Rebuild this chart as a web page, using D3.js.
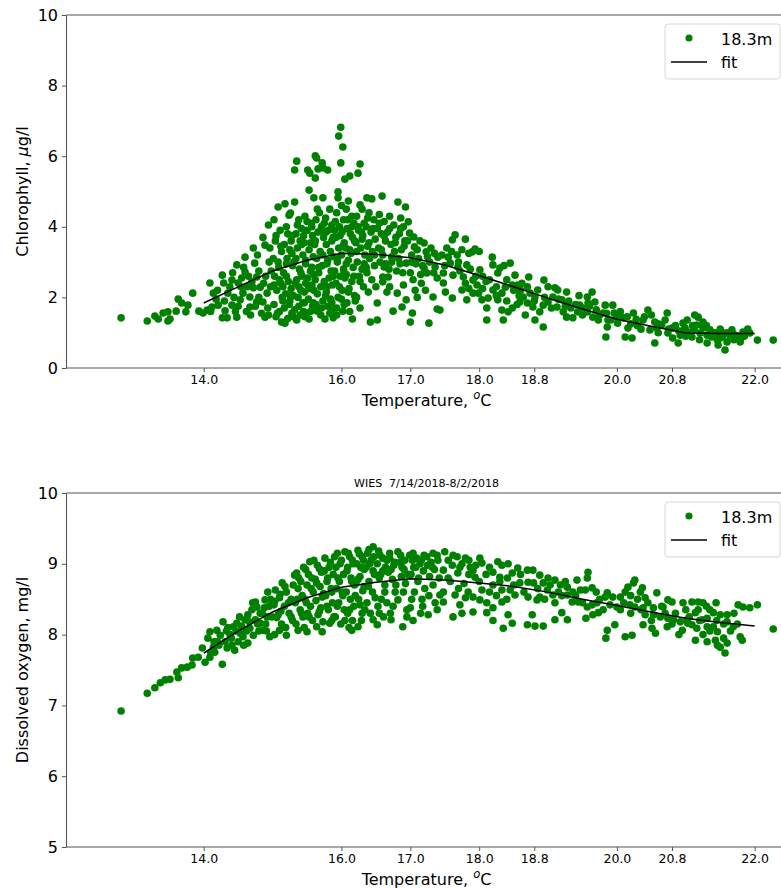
<!DOCTYPE html>
<html><head><meta charset="utf-8">
<script src="https://cdn.jsdelivr.net/npm/d3@7"></script>
<style>body{margin:0;background:#fff} svg text{font-family:"DejaVu Sans",sans-serif;fill:#000;white-space:pre}</style>
</head><body><svg id="c" width="781" height="888"></svg>
<script>
const xTicks=[14.0,16.0,17.0,18.0,18.8,20.0,20.8,22.0];
const chlTicks=[0,2,4,6,8,10];
const doTicks=[5,6,7,8,9,10];
const legendLabels=["18.3m","fit"];
const titleText="WIES  7/14/2018-8/2/2018";
const fitTemp=[14,14.5,15,15.5,16,16.5,17,17.5,18,18.5,19,19.5,20,20.5,21,21.5,22];
const chlFit=[1.84,2.3,2.75,3.05,3.25,3.22,3.12,2.92,2.62,2.3,1.98,1.67,1.38,1.18,0.99,0.98,0.98];
const doFit=[7.74,8.05,8.32,8.52,8.67,8.74,8.79,8.77,8.73,8.68,8.6,8.5,8.41,8.32,8.23,8.17,8.12];

const chlPoints=[
[12.8,1.42],[13.18,1.33],[13.29,1.47],[13.34,1.39],[13.41,1.56],[13.48,1.59],[13.51,1.39],[13.48,1.33],[13.6,1.61],[13.63,1.95],[13.68,1.84],[13.74,1.59],[13.77,1.78],[13.84,2.12],[13.93,1.61],[13.99,1.56],
[14.09,2.41],[14.14,2.12],[14.27,2.63],[14.29,2.41],[14.35,2.12],[14.41,2.49],[14.48,2.92],[14.5,2.41],[14.53,1.93],[14.6,2.72],[14.6,3.14],[14.72,3.4],[14.74,2.97],[14.77,2.58],[14.82,2.29],[14.89,3.48],[14.94,4.05],[14.92,2.12],[14.89,1.44],[14.67,1.73],[14.27,1.42],[14.34,1.42],[14.48,1.44],[14.21,1.78],[14.41,1.78],[14.12,1.73],[14.05,1.64],[14.67,2.01],[14.77,1.87],[14.86,1.87],[14.57,2.12],[14.72,2.27],
[14.18,1.95],[14.31,1.62],[14.44,2.0],[14.55,2.55],[14.62,1.6],[14.7,2.45],[14.8,2.75],[14.84,1.55],[14.9,2.6],[14.95,3.0],[14.97,2.3],[14.93,1.7],[14.63,2.3],[14.38,2.3],[14.58,2.85],[14.78,3.2],[14.86,3.7],[14.46,1.6],
[14.1,1.6],[14.2,2.2],[14.3,1.9],[14.42,2.7],[14.5,1.75],[14.54,2.3],[14.65,2.6],[14.68,1.5],[14.75,1.75],[14.8,2.0],[14.87,2.4],[14.94,1.5],[14.98,2.75],[14.96,3.4],
[15.08,4.56],[15.02,4.2],[15.11,3.9],[15.04,3.6],[15.13,3.3],[15.01,3.1],[15.09,2.85],[15.03,2.6],[15.12,2.4],[15.06,2.2],[15.14,2.0],[15.02,1.8],[15.1,1.6],[15.05,1.45],[15.13,1.3],
[15.18,4.65],[15.26,4.39],[15.24,4.33],[15.2,4.0],[15.28,3.75],[15.17,3.5],[15.25,3.35],[15.21,3.1],[15.29,2.9],[15.16,2.7],[15.23,2.45],[15.27,2.25],[15.19,2.1],[15.25,1.9],[15.17,1.7],[15.28,1.55],[15.18,1.27],[15.22,1.4],
[15.35,5.86],[15.32,5.61],[15.32,4.7],[15.38,4.2],[15.42,3.95],[15.34,3.8],[15.4,3.6],[15.36,3.4],[15.44,3.2],[15.31,3.0],[15.39,2.8],[15.43,2.6],[15.33,2.4],[15.41,2.2],[15.37,2.0],[15.44,1.85],[15.32,1.65],[15.4,1.5],[15.35,1.36],
[15.51,5.61],[15.54,5.52],[15.53,5.04],[15.6,4.82],[15.47,4.3],[15.56,4.1],[15.5,3.9],[15.58,3.75],[15.46,3.55],[15.53,3.35],[15.59,3.15],[15.48,2.95],[15.55,2.75],[15.51,2.55],[15.57,2.35],[15.46,2.15],[15.52,1.95],[15.58,1.75],[15.49,1.55],[15.53,1.39],
[15.62,6.01],[15.64,5.95],[15.72,5.81],[15.73,5.67],[15.66,5.64],[15.62,5.38],[15.73,4.82],[15.68,4.4],[15.63,4.2],[15.71,4.0],[15.66,3.85],[15.74,3.7],[15.61,3.5],[15.69,3.3],[15.64,3.1],[15.72,2.9],[15.67,2.7],[15.62,2.5],[15.7,2.3],[15.65,2.1],[15.73,1.9],[15.65,1.61],[15.76,1.39],
[15.8,5.61],[15.83,4.5],[15.77,4.25],[15.86,4.05],[15.81,3.9],[15.88,3.7],[15.78,3.5],[15.84,3.3],[15.89,3.15],[15.79,2.95],[15.85,2.75],[15.82,2.55],[15.87,2.35],[15.78,2.15],[15.84,1.95],[15.8,1.75],[15.88,1.42],[15.83,1.55],
[15.99,6.82],[15.96,6.57],[16.02,6.26],[15.99,5.81],[16.05,5.35],[15.95,4.99],[15.95,4.82],[16.0,4.6],[15.93,4.4],[16.03,4.2],[15.97,4.0],[16.01,3.85],[15.92,3.7],[16.04,3.55],[15.96,3.4],[16.0,3.2],[15.94,3.0],[16.03,2.8],[15.98,2.6],[15.92,2.4],[16.01,2.2],[15.95,2.0],[16.04,1.8],[16.02,1.61],
[16.12,5.44],[16.1,4.73],[16.07,4.5],[16.15,4.3],[16.18,4.1],[16.08,3.95],[16.13,3.8],[16.19,3.6],[16.06,3.4],[16.14,3.25],[16.1,3.05],[16.17,2.85],[16.07,2.65],[16.15,2.45],[16.11,2.25],[16.19,2.05],[16.08,1.85],[16.16,1.39],
[16.27,5.78],[16.24,5.52],[16.27,4.62],[16.3,4.5],[16.22,4.3],[16.33,4.1],[16.25,3.9],[16.31,3.75],[16.21,3.55],[16.28,3.4],[16.34,3.2],[16.23,3.0],[16.3,2.8],[16.26,2.6],[16.27,1.7],[16.32,2.3],[16.22,2.0],
[16.37,4.82],[16.44,4.79],[16.4,4.4],[16.47,4.2],[16.36,4.0],[16.43,3.85],[16.49,3.65],[16.38,3.45],[16.45,3.3],[16.41,3.1],[16.48,2.9],[16.37,2.7],[16.44,2.5],[16.39,2.15],[16.42,1.3],[16.52,1.36],[16.52,1.84],
[16.59,4.87],[16.55,4.35],[16.62,4.15],[16.52,3.95],[16.58,3.8],[16.64,3.6],[16.54,3.4],[16.6,3.2],[16.62,2.86],[16.6,2.58],[16.6,2.44],[16.66,2.15],[16.56,3.0],
[16.7,4.3],[16.76,4.05],[16.67,3.85],[16.79,3.7],[16.72,3.5],[16.77,3.3],[16.73,3.0],[16.69,2.8],[16.68,2.58],[16.81,2.12],[16.75,1.61],
[16.82,4.7],[16.93,4.56],[16.86,4.25],[16.9,4.0],[16.84,3.8],[16.92,3.6],[16.87,3.35],[16.83,3.1],[16.94,2.97],[16.89,2.7],[16.94,1.93],[16.88,1.73],
[16.97,4.14],[16.99,3.82],[17.05,3.71],[17.06,3.43],[17.02,3.2],[17.08,2.95],[17.0,2.7],[17.04,2.5],[17.03,1.56],[17.0,1.3],[17.07,2.2],
[17.2,3.54],[17.23,3.29],[17.14,3.6],[17.12,3.1],[17.2,2.83],[17.24,2.69],[17.16,2.4],[17.27,1.27],[17.18,2.9],
[17.4,3.14],[17.36,2.86],[17.39,2.55],[17.33,2.01],[17.39,1.67],[17.3,3.4],[17.28,3.0],[17.34,2.7],
[15.07,1.55],[15.15,2.3],[15.24,1.8],[15.3,2.05],[15.38,1.75],[15.46,1.85],[15.55,1.6],[15.63,1.8],[15.7,1.5],[15.77,2.05],[15.86,1.65],[15.93,1.5],[16.0,1.95],[16.12,1.6],[16.2,1.9],[15.1,2.5],[15.2,2.95],[15.35,2.5],[15.48,2.4],[15.6,2.65],[15.75,2.45],[15.9,2.75],[16.05,2.55],[15.27,3.6],[15.45,3.75],[15.57,4.0],[15.75,4.1],[15.9,3.9],[16.15,4.0],[16.3,3.65],
[15.05,3.75],[15.12,3.45],[15.08,3.0],[15.02,2.35],[15.15,1.9],[15.22,3.8],[15.28,3.25],[15.2,2.6],[15.26,2.05],[15.3,1.45],[15.36,4.05],[15.42,3.5],[15.34,3.1],[15.41,2.7],[15.38,2.3],[15.45,1.6],[15.5,4.15],[15.55,3.55],[15.48,3.05],[15.57,2.85],[15.52,2.25],[15.59,1.85],[15.47,1.45],[15.65,4.5],[15.7,3.9],[15.62,3.6],[15.73,3.2],[15.67,2.85],[15.6,2.2],[15.71,1.7],[15.78,3.85],[15.86,3.6],[15.8,3.05],[15.88,2.6],[15.79,2.3],[15.86,1.85],[15.91,4.15],[15.98,3.75],[16.02,3.45],[15.94,3.1],[16.04,2.7],[15.97,2.3],[15.93,1.7],[16.09,4.2],[16.16,3.7],[16.12,3.35],[16.07,2.95],[16.18,2.6],[16.1,2.15],[16.24,4.0],[16.29,3.85],[16.22,3.3],[16.33,2.95],[16.27,2.45],[16.38,4.25],[16.46,3.95],[16.4,3.55],[16.48,3.2],[16.36,2.85],[16.55,4.1],[16.62,3.75],[16.58,3.35],[16.64,2.95],[16.7,3.95],[16.78,3.55],[16.73,3.15],[16.8,2.75],[16.86,3.95],[16.91,3.45],[16.85,2.95],[16.96,3.6],[17.02,3.0],[17.1,3.35],[17.15,2.65],[17.25,3.15],[17.35,3.25],[16.5,2.3],[16.7,2.3],[16.9,2.35],[17.1,2.0],[17.22,2.2],
[17.65,3.77],[17.61,3.63],[17.8,3.65],[17.53,3.4],[17.46,3.2],[17.55,3.14],[17.68,3.2],[17.9,3.29],[17.94,3.37],[17.85,3.25],[17.58,2.97],[17.69,2.86],[17.82,2.92],[17.87,2.8],[17.48,2.69],[17.62,2.63],[17.77,2.58],[17.91,2.49],[18.01,2.78],[18.19,3.14],[18.2,2.92],[18.3,2.83],[18.27,2.69],[18.45,2.97],[18.36,2.9],[18.52,2.63],[18.72,2.58],[18.94,2.49],[17.48,2.41],[17.51,2.15],[17.75,2.21],[17.85,2.25],[17.97,2.35],[17.99,2.12],[18.04,1.93],[18.13,1.98],[18.2,2.21],[18.25,2.3],[18.33,2.12],[18.38,2.29],[18.48,2.35],[18.56,2.35],[18.62,2.4],[18.64,2.01],[18.74,2.12],[18.81,2.01],[18.85,2.21],[18.7,1.84],[18.78,1.73],[18.88,1.59],[18.93,1.78],[19.0,1.87],[19.1,2.27],[19.14,2.21],[19.27,2.15],[19.07,2.01],[19.2,1.93],[19.13,1.73],[19.22,1.59],[19.33,1.7],[19.27,1.44],[19.36,1.42],[19.43,1.59],[19.46,1.78],[19.57,2.01],[19.64,2.15],[19.68,1.87],[19.58,1.84],[19.57,1.59],[19.65,1.44],[19.73,1.36],[19.8,1.56],[19.83,1.78],[19.87,1.36],[19.86,1.16],[19.84,0.88],[18.11,1.36],[18.35,1.36],[18.93,1.16],[18.67,1.5],[18.81,1.36],[18.42,1.59],[18.48,1.7],[18.33,1.64],[18.27,1.93],[18.11,1.7],[17.91,2.12],[17.82,1.93],[17.61,1.98],[17.43,1.64],[18.58,2.05],[18.59,1.87],
[17.7,3.0],[17.75,3.35],[18.05,2.6],[18.1,2.45],[18.4,2.5],[18.6,2.2],[19.0,2.3],[19.3,1.9],[19.45,2.05],[19.5,1.7],[19.7,1.65],[18.0,3.3],
[17.5,2.9],[17.6,3.3],[17.72,2.75],[17.8,2.4],[17.95,2.6],[18.05,2.25],[18.15,2.5],[18.25,2.05],[18.4,1.9],[18.5,2.2],[18.55,1.8],[18.7,2.3],[18.8,1.9],[18.95,2.0],[19.05,1.7],[19.15,1.95],[19.25,1.75],[19.4,1.8],[19.5,1.5],[19.6,1.75],[19.75,1.5],[19.85,1.55],
[19.94,1.78],[19.96,1.56],[19.91,1.36],[20.01,1.27],[20.09,1.42],[20.15,1.45],[20.12,0.88],[20.22,0.85],[20.16,1.13],[20.24,1.56],[20.28,1.38],[20.38,1.36],[20.4,1.45],[20.45,1.64],[20.48,1.08],[20.55,1.3],[20.58,1.13],[20.55,0.71],[20.65,1.22],[20.7,1.36],[20.73,1.56],[20.74,0.99],[20.8,1.13],[20.81,0.85],[20.89,0.71],[20.92,0.93],[20.96,1.27],[20.99,1.13],[21.03,1.02],[21.09,0.88],[21.13,1.5],[21.18,1.44],[21.16,1.22],[21.12,1.1],[21.21,0.99],[21.25,1.13],[21.31,0.71],[21.31,0.93],[21.35,1.08],[21.38,0.88],[21.43,0.99],[21.46,0.79],[21.47,0.65],[21.53,0.88],[21.57,0.51],[21.6,0.74],[21.54,0.99],[21.64,0.93],[21.67,1.08],[21.74,0.91],[21.79,0.74],[21.83,1.02],[21.93,0.99],[21.8,0.85],[22.04,0.79],[22.27,0.79],[21.02,1.36],[20.9,1.05],[21.4,1.0],[21.7,0.95],
[20.05,1.6],[20.3,1.2],[20.6,1.0],[20.85,1.2],[21.2,0.8],[21.5,1.1],[21.45,0.95],[21.25,1.3],[20.5,1.5],[21.0,0.9],
[20.0,1.45],[20.2,1.25],[20.35,1.1],[20.6,1.25],[20.75,1.1],[20.95,1.05],[21.1,1.2],[21.3,1.2],[21.5,0.85],[21.6,1.0],[21.7,0.8],[21.85,0.9],[21.9,1.1]
];

const doPoints=[
[12.8,6.92],[13.18,7.17],[13.29,7.25],[13.37,7.32],[13.44,7.36],[13.51,7.37],[13.63,7.39],[13.61,7.47],[13.68,7.53],[13.76,7.54],[13.83,7.57],[13.84,7.67],[13.92,7.68],[13.98,7.81],[14.02,7.61],[14.09,7.68],[14.16,7.75],[14.27,7.58],[14.14,7.82],[14.06,7.95],[14.09,8.04],[14.19,8.06],[14.28,8.18],[14.24,7.99],[14.31,7.9],[14.34,7.81],[14.41,7.85],[14.45,7.78],[14.43,8.11],[14.48,8.16],[14.53,8.02],[14.57,7.97],[14.6,8.21],[14.64,8.28],[14.64,7.88],[14.72,7.99],[14.67,8.09],[14.75,8.21],[14.77,8.39],[14.75,8.46],[14.82,8.16],[14.86,8.06],[14.92,8.25],[14.89,8.49],[14.93,8.6],[14.96,7.97],
[14.2,7.9],[14.38,8.0],[14.5,7.9],[14.55,8.12],[14.7,8.35],[14.8,8.05],[14.85,8.3],[14.95,8.4],[14.9,8.15],[14.62,8.05],
[14.1,7.75],[14.22,7.85],[14.33,8.05],[14.4,7.95],[14.47,8.05],[14.52,8.25],[14.58,7.85],[14.66,8.18],[14.71,8.45],[14.78,8.15],[14.82,8.3],[14.88,8.38],[14.91,8.05],[14.97,8.5],[14.99,8.25],[14.35,8.1],[14.15,7.9],
[15.04,8.63],[15.1,8.52],[15.02,8.42],[15.12,8.33],[15.06,8.24],[15.13,8.15],[15.1,8.06],[15.03,8.0],
[15.14,8.73],[15.32,8.84],[15.2,8.6],[15.27,8.5],[15.17,8.4],[15.24,8.3],[15.29,8.2],[15.19,8.1],[15.2,7.99],
[15.35,8.87],[15.41,8.75],[15.37,8.65],[15.43,8.55],[15.33,8.45],[15.4,8.35],[15.44,8.25],[15.34,8.15],[15.37,8.06],
[15.54,9.03],[15.48,8.92],[15.57,8.8],[15.5,8.7],[15.59,8.6],[15.47,8.5],[15.55,8.4],[15.51,8.3],[15.58,8.2],[15.46,8.1],[15.5,8.04],
[15.65,8.98],[15.71,8.88],[15.62,8.78],[15.69,8.68],[15.74,8.58],[15.63,8.48],[15.7,8.38],[15.66,8.28],[15.73,8.18],[15.64,8.11],
[15.76,9.08],[15.82,8.95],[15.88,8.85],[15.79,8.75],[15.85,8.65],[15.77,8.55],[15.87,8.45],[15.81,8.35],[15.89,8.25],[15.72,8.04],[15.83,8.16],
[15.94,9.15],[16.0,9.05],[15.92,8.95],[16.03,8.85],[15.97,8.75],[15.93,8.65],[16.02,8.55],[15.96,8.45],[16.04,8.35],[15.91,8.25],[15.99,8.15],
[16.05,9.17],[16.12,9.1],[16.17,9.0],[16.08,8.9],[16.14,8.8],[16.19,8.7],[16.07,8.6],[16.13,8.5],[16.18,8.4],[16.09,8.3],[16.16,8.2],[16.11,8.1],
[16.24,9.19],[16.3,9.1],[16.22,9.0],[16.33,8.92],[16.27,8.82],[16.21,8.72],[16.31,8.62],[16.25,8.5],[16.34,8.35],[16.15,8.06],[16.24,8.11],[16.29,8.2],
[16.46,9.24],[16.38,9.15],[16.43,9.05],[16.36,8.95],[16.48,8.85],[16.4,8.75],[16.45,8.6],[16.37,8.45],[16.42,8.3],[16.46,8.21],[16.52,8.14],
[16.56,9.12],[16.66,9.05],[16.52,9.0],[16.6,8.9],[16.55,8.8],[16.63,8.7],[16.58,8.5],[16.53,8.4],[16.61,8.25],
[16.82,9.17],[16.7,9.08],[16.76,8.98],[16.68,8.88],[16.74,8.78],[16.66,8.45],[16.78,8.6],[16.71,8.3],[16.72,8.21],
[16.99,9.12],[16.85,9.02],[16.91,8.92],[16.87,8.82],[16.93,8.72],[16.82,8.49],[16.89,8.11],[16.95,8.35],
[17.03,9.05],[17.08,8.95],[17.01,8.85],[17.0,8.38],[17.06,8.6],[17.04,8.2],
[17.24,9.1],[17.14,9.0],[17.19,8.9],[17.12,8.8],[17.17,8.5],[17.26,8.28],[17.21,8.65],
[17.39,9.12],[17.3,9.02],[17.35,8.92],[17.28,8.82],[17.39,8.35],[17.33,8.7],[17.27,8.55],
[15.03,8.47],[15.08,8.28],[15.11,8.57],[15.18,8.68],[15.23,8.45],[15.27,8.25],[15.3,8.7],[15.38,8.8],[15.36,8.5],[15.42,8.3],[15.45,8.95],[15.52,8.85],[15.56,8.65],[15.49,8.45],[15.53,8.25],[15.6,9.05],[15.68,8.93],[15.64,8.73],[15.72,8.53],[15.68,8.33],[15.75,8.9],[15.84,9.02],[15.8,8.8],[15.86,8.6],[15.79,8.4],[15.86,8.2],[15.9,9.1],[15.98,9.0],[15.95,8.8],[16.01,8.6],[15.94,8.4],[16.05,8.2],[16.1,9.15],[16.16,9.05],[16.09,8.95],[16.15,8.75],[16.2,8.55],[16.12,8.35],[16.26,9.14],[16.32,9.05],[16.28,8.95],[16.24,8.78],[16.33,8.68],[16.27,8.42],[16.4,9.2],[16.47,9.1],[16.41,9.0],[16.46,8.9],[16.39,8.68],[16.49,8.52],[16.54,9.18],[16.6,9.08],[16.64,8.95],[16.57,8.85],[16.63,8.6],[16.7,9.15],[16.77,9.02],[16.72,8.92],[16.79,8.7],[16.75,8.4],[16.86,9.12],[16.92,9.05],[16.88,8.95],[16.96,8.85],[16.9,8.6],[17.04,9.15],[17.09,9.08],[17.05,8.95],[17.11,8.75],[17.2,9.12],[17.16,9.05],[17.25,8.98],[17.18,8.4],[17.33,9.15],[17.4,9.05],[17.32,8.95],[17.42,8.8],[17.36,8.45],[17.02,8.5],[17.15,8.3],[16.95,8.25],[16.55,8.3],[16.3,8.3],
[17.5,9.17],[17.62,9.12],[17.8,9.08],[18.01,9.08],[17.61,8.98],[17.72,8.95],[17.87,8.95],[17.91,8.91],[18.04,9.01],[17.48,8.91],[17.69,8.87],[17.94,8.81],[18.27,9.03],[18.33,8.98],[18.42,9.0],[18.2,8.88],[18.3,8.81],[18.41,8.8],[18.48,8.87],[18.56,8.94],[18.7,8.91],[18.78,8.91],[18.88,8.84],[18.59,8.73],[18.71,8.74],[18.79,8.73],[18.93,8.73],[19.03,8.7],[19.1,8.77],[19.18,8.7],[19.28,8.67],[19.42,8.77],[19.58,8.88],[19.57,8.8],[19.54,8.63],[19.64,8.66],[19.47,8.63],[19.36,8.6],[19.28,8.56],[19.15,8.6],[19.07,8.56],[18.99,8.63],[18.88,8.53],[18.84,8.49],[18.71,8.53],[18.52,8.56],[18.45,8.63],[18.33,8.63],[18.2,8.7],[18.04,8.63],[17.91,8.53],[18.01,8.49],[17.84,8.6],[17.8,8.52],[17.72,8.42],[17.65,8.56],[17.48,8.6],[17.43,8.56],[17.48,8.46],[18.11,8.45],[18.11,8.31],[18.2,8.38],[18.33,8.46],[18.42,8.28],[18.48,8.16],[18.35,8.09],[17.91,8.32],[17.62,8.25],[18.7,8.14],[18.77,8.28],[18.81,8.12],[18.93,8.12],[19.1,8.21],[19.2,8.31],[19.28,8.21],[19.35,8.46],[19.44,8.46],[19.57,8.39],[19.64,8.42],[19.71,8.45],[19.73,8.31],[19.65,8.28],[19.55,8.23],[19.83,8.53],[19.86,8.59],[19.86,8.06],[19.84,7.95],
[17.55,9.05],[17.68,9.1],[17.75,9.0],[17.85,9.05],[17.95,8.98],[17.58,8.75],[17.78,8.72],[18.1,8.85],[18.15,8.95],[18.6,8.85],[19.0,8.8],[19.25,8.75],[18.25,8.55],[19.7,8.6],
[17.55,8.8],[17.7,8.65],[17.85,8.85],[18.0,8.75],[18.15,8.6],[18.3,8.75],[18.4,8.5],[18.5,8.7],[18.65,8.6],[18.85,8.65],[18.95,8.5],[19.1,8.45],[19.2,8.55],[19.4,8.55],[19.5,8.45],[19.75,8.5],[19.8,8.35],[18.2,8.2],[17.75,8.3],
[20.26,8.77],[20.24,8.73],[20.16,8.67],[20.12,8.6],[20.05,8.53],[19.94,8.53],[20.37,8.66],[20.34,8.6],[20.41,8.52],[20.58,8.59],[20.74,8.49],[20.8,8.46],[20.96,8.45],[21.09,8.46],[21.18,8.46],[21.25,8.45],[21.44,8.45],[21.76,8.42],[21.83,8.39],[21.93,8.38],[22.04,8.42],[22.27,8.08],[20.19,8.42],[20.26,8.39],[20.38,8.38],[20.53,8.38],[20.67,8.39],[20.41,8.28],[20.53,8.28],[20.63,8.25],[20.74,8.23],[20.82,8.21],[20.92,8.18],[21.02,8.21],[21.14,8.31],[21.18,8.35],[21.35,8.35],[21.4,8.31],[21.5,8.28],[21.6,8.28],[21.24,8.21],[21.31,8.23],[21.03,8.16],[21.09,8.14],[21.16,8.09],[21.31,8.11],[21.4,8.11],[21.46,8.04],[21.6,8.18],[21.69,8.11],[20.95,8.06],[20.73,8.11],[20.38,8.14],[20.51,8.09],[20.56,8.02],[19.97,8.14],[20.12,7.97],[20.22,7.99],[21.14,7.92],[21.31,7.9],[21.43,7.92],[21.46,7.85],[21.5,7.82],[21.6,7.88],[21.57,7.74],[21.79,7.97],[21.82,7.92],[19.9,8.42],[20.0,8.39],[20.05,8.35],
[20.3,8.5],[20.45,8.45],[20.65,8.4],[20.85,8.3],[21.0,8.35],[21.2,8.2],[21.35,8.05],[21.55,8.15],[21.7,8.3],[20.2,8.3],[20.9,8.0],[21.25,8.0],
[20.1,8.45],[20.2,8.55],[20.35,8.35],[20.5,8.2],[20.7,8.3],[20.8,8.15],[21.05,8.25],[21.3,8.4],[21.45,8.2],[21.55,7.95],[21.65,8.05],[21.75,8.15]
];

const svg=d3.select("#c");
const x=d3.scaleLinear().domain([12,22.47]).range([66,787]);
const green="#008000";
const xCenter=(x.range()[0]+x.range()[1])/2;

function panel(top,bottom,yDomain,yTicks,points,fit,yLabelParts,title){
  const y=d3.scaleLinear().domain(yDomain).range([bottom,top]);
  const g=svg.append("g");
  if(title){
    g.append("text").attr("x",xCenter).attr("y",top-6)
      .attr("text-anchor","middle").attr("font-size",11).text(title);
  }
  g.append("g").selectAll("circle").data(points).join("circle")
    .attr("cx",d=>x(d[0])).attr("cy",d=>y(d[1])).attr("r",3.8).attr("fill",green);
  g.append("path").datum(fitTemp.map((t,i)=>[t,fit[i]]))
    .attr("d",d3.line().x(d=>x(d[0])).y(d=>y(d[1])))
    .attr("fill","none").attr("stroke","#000").attr("stroke-width",1.5);
  g.append("line").attr("x1",66).attr("x2",800).attr("y1",top).attr("y2",top).attr("stroke","#555").attr("stroke-width",1.1);
  const xa=g.append("g").attr("transform",`translate(0,${bottom})`)
    .call(d3.axisBottom(x).tickValues(xTicks).tickFormat(d3.format(".1f")).tickSizeInner(4).tickSizeOuter(0).tickPadding(3));
  xa.select(".domain").attr("d",`M66,0H800`).attr("stroke","#555").attr("stroke-width",1.1);
  xa.selectAll(".tick line").attr("stroke","#555");
  xa.selectAll(".tick text").attr("font-size",12.5).attr("font-family","DejaVu Sans");
  const ya=g.append("g").attr("transform",`translate(66,0)`)
    .call(d3.axisLeft(y).tickValues(yTicks).tickFormat(d3.format("d")).tickSizeInner(4).tickSizeOuter(0).tickPadding(4));
  ya.select(".domain").attr("stroke","#555").attr("stroke-width",1.1);
  ya.selectAll(".tick line").attr("stroke","#555");
  ya.selectAll(".tick text").attr("font-size",16).attr("font-family","DejaVu Sans");
  const xl=g.append("text").attr("x",xCenter).attr("y",bottom+38).attr("text-anchor","middle").attr("font-size",16);
  xl.append("tspan").text("Temperature, ");
  xl.append("tspan").attr("font-style","italic").attr("font-size",11.5).attr("dy",-7).text("o");
  xl.append("tspan").attr("dy",7).text("C");
  const yl=g.append("text").attr("transform",`translate(28,${(top+bottom)/2}) rotate(-90)`).attr("text-anchor","middle").attr("font-size",16);
  yLabelParts.forEach(p=>{yl.append("tspan").attr("font-style",p[1]?"italic":null).text(p[0]);});
  const lg=g.append("g").attr("transform",`translate(0,${top})`);
  lg.append("rect").attr("x",665).attr("y",9).attr("width",115).attr("height",55).attr("rx",3)
    .attr("fill","#fff").attr("fill-opacity",0.85).attr("stroke","#d8d8d8");
  lg.append("circle").attr("cx",689).attr("cy",23).attr("r",3.6).attr("fill",green);
  lg.append("text").attr("x",721).attr("y",30).attr("font-size",16).text(legendLabels[0]);
  lg.append("line").attr("x1",671).attr("x2",707).attr("y1",47).attr("y2",47).attr("stroke","#000").attr("stroke-width",1.5);
  lg.append("text").attr("x",721).attr("y",53).attr("font-size",16).text(legendLabels[1]);
}

panel(15,368,[0,10],chlTicks,chlPoints,chlFit,[["Chlorophyll, ",false],["μ",true],["g/l",false]],null);
panel(493,847,[5,10],doTicks,doPoints,doFit,[["Dissolved oxygen, mg/l",false]],titleText);
</script></body></html>
